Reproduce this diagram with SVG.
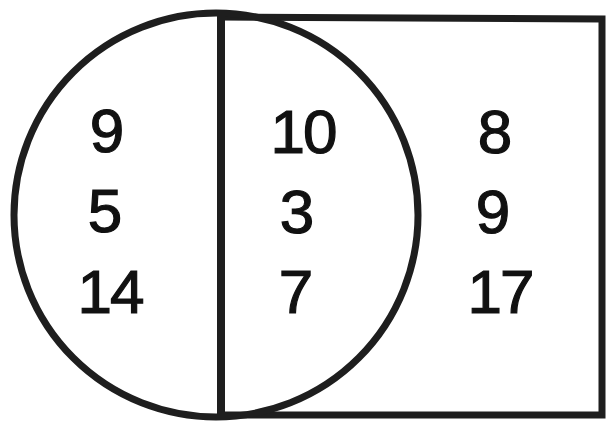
<svg xmlns="http://www.w3.org/2000/svg" width="606" height="423" viewBox="0 0 606 423">
<style>
.ln{fill:none;stroke:#1e1e1e;stroke-width:7}
.t{font-family:"Liberation Sans",Arial,sans-serif;font-size:62px;fill:#111;stroke:#111;stroke-width:1.2;text-anchor:middle}
.n{letter-spacing:-2px}
</style>
<rect width="606" height="423" fill="#fff"/>
<g id="rectangle"><path class="ln" d="M221 17 L602 19 L602 415 L221 415"/></g>
<g id="circle"><circle class="ln" cx="216" cy="215" r="202"/></g>
<g id="divider"><line x1="221" y1="13" x2="221" y2="417" stroke="#1e1e1e" stroke-width="8"/></g>
<g id="left-values">
<text class="t" x="107" y="152">9</text>
<text class="t" x="105" y="232">5</text>
<text class="t n" x="110" y="313">14</text>
</g>
<g id="middle-values">
<text class="t n" x="303" y="153">10</text>
<text class="t" x="297" y="233">3</text>
<text class="t" x="296" y="313">7</text>
</g>
<g id="right-values">
<text class="t" x="495" y="153">8</text>
<text class="t" x="493" y="233">9</text>
<text class="t n" x="500" y="313">17</text>
</g>
</svg>
